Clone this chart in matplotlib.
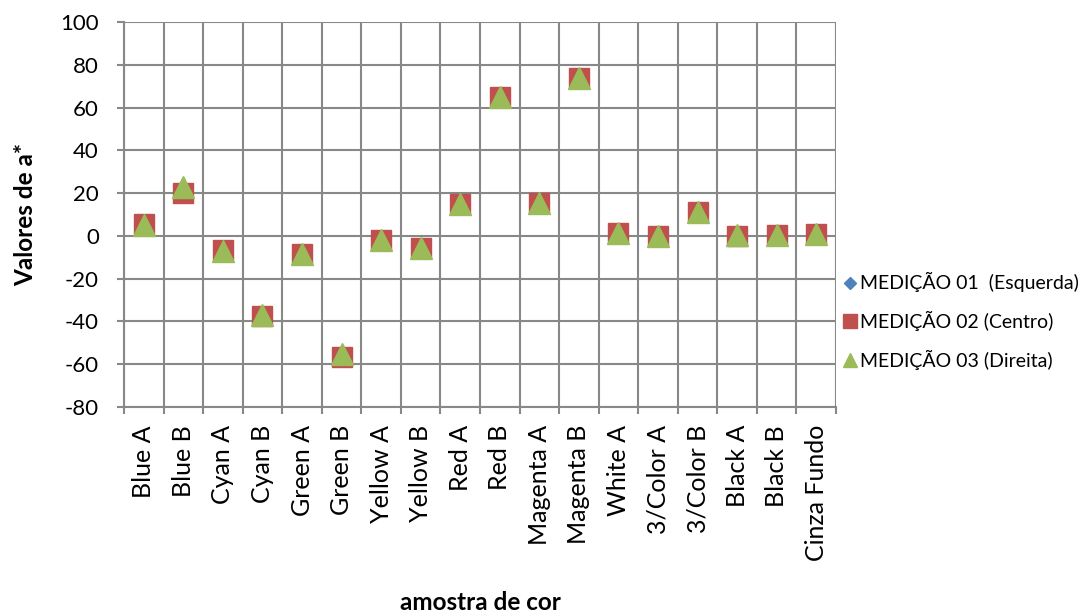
import matplotlib
matplotlib.use("Agg")
import matplotlib.pyplot as plt
from matplotlib.ticker import FixedLocator, NullFormatter

categories = ["Blue A", "Blue B", "Cyan A", "Cyan B", "Green A", "Green B",
              "Yellow A", "Yellow B", "Red A", "Red B", "Magenta A", "Magenta B",
              "White A", "3/Color A", "3/Color B", "Black A", "Black B", "Cinza Fundo"]

med01 = [5.5, 20, -7, -37.4, -8.4, -56.5, -2, -5.6, 14.7, 65, 15.4, 73.8, 1.4, -0.1, 11, 0, 0.6, 0.8]
med02 = [5.6, 19.9, -6.8, -37.4, -8.4, -56.5, -2.1, -5.6, 14.7, 65, 15.4, 73.8, 1.4, -0.1, 11, 0, 0.6, 0.8]
med03 = [5, 23, -7, -37, -8.4, -55.4, -2, -5.6, 15, 65, 15.4, 74, 1.4, 0, 11.2, 0.3, 0.6, 0.8]

series_names = ["MEDIÇÃO 01  (Esquerda)", "MEDIÇÃO 02 (Centro)", "MEDIÇÃO 03 (Direita)"]

plt.rcParams['font.family'] = ['Lato', 'DejaVu Sans']
plt.rcParams['axes.unicode_minus'] = False

fig = plt.figure(figsize=(10.89, 6.15), dpi=100)
ax = fig.add_axes([124 / 1089, 1 - 407 / 615, (836 - 124) / 1089, (407 - 22) / 615])

x = list(range(len(categories)))
grid_color = "#888888"

h1, = ax.plot(x, med01, linestyle="none", marker="D", markersize=9,
              color="#4F81BD", zorder=3)
h2, = ax.plot(x, med02, linestyle="none", marker="s", markersize=15,
              color="#C0504D", zorder=4)
h3, = ax.plot(x, med03, linestyle="none", marker="^", markersize=16,
              color="#9BBB59", zorder=5)

ax.set_xlim(-0.5, len(categories) - 0.5)
ax.set_ylim(-80, 100)
ax.set_yticks(range(-80, 101, 20))
ax.yaxis.grid(True, color=grid_color, linewidth=1.5)

ax.set_xticks(x)
ax.set_xticklabels(categories, rotation=90, fontsize=18)
ax.xaxis.set_minor_locator(FixedLocator([i - 0.5 for i in range(len(categories) + 1)]))
ax.xaxis.set_minor_formatter(NullFormatter())
ax.xaxis.grid(True, which="minor", color=grid_color, linewidth=1.5)
ax.tick_params(axis="x", which="major", length=0, pad=13)
ax.tick_params(axis="x", which="minor", length=5, color=grid_color, width=1.5)
ax.tick_params(axis="y", length=5, color=grid_color, width=1.5, labelsize=16, pad=13)
ax.set_axisbelow(True)

for side in ["top", "right"]:
    ax.spines[side].set_visible(False)
for side in ["left", "bottom"]:
    ax.spines[side].set_color(grid_color)
    ax.spines[side].set_linewidth(1.5)

ax.set_ylabel("Valores de a*", fontsize=17.5, fontweight="bold")
ax.yaxis.set_label_coords(-(124 - 37) / 712, (407 - 214) / 385)
fig.text(480 / 1089, 1 - 602 / 615, "amostra de cor", fontsize=17.5, fontweight="bold",
         ha="center", va="center")

leg = fig.legend([h1, h2, h3], series_names, loc="center left",
                 bbox_to_anchor=(826 / 1089, 1 - 321 / 615), frameon=False,
                 fontsize=14, handlelength=0.7, handletextpad=0.15,
                 labelspacing=0.95, markerscale=0.65)

fig.savefig("out.png", dpi=100)
